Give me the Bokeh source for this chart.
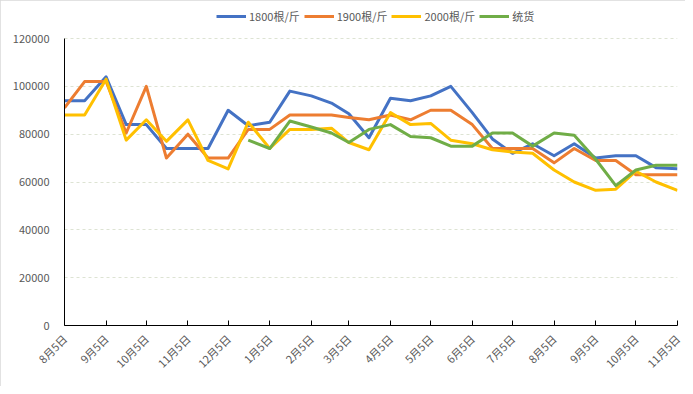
import math
import numpy as np
import pandas as pd
from bokeh.plotting import figure
from bokeh.models import (ColumnDataSource, FixedTicker, Legend, LegendItem,
                          Range1d, NumeralTickFormatter)
from bokeh.embed import file_html
from bokeh.resources import INLINE

# ---------------- data ----------------
dates = ["2020-08-05", "2020-08-20", "2020-09-05", "2020-09-20", "2020-10-05", "2020-10-20",
         "2020-11-05", "2020-11-20", "2020-12-05", "2020-12-20", "2021-01-05", "2021-01-20",
         "2021-02-05", "2021-02-20", "2021-03-05", "2021-03-20", "2021-04-05", "2021-04-20",
         "2021-05-05", "2021-05-20", "2021-06-05", "2021-06-20", "2021-07-05", "2021-07-20",
         "2021-08-05", "2021-08-20", "2021-09-05", "2021-09-20", "2021-10-05", "2021-10-20",
         "2021-11-05"]

s1800 = [94000, 94000, 104000, 84000, 84000, 74000, 74000, 74000, 90000, 83500, 85000, 98000,
         96000, 93000, 88500, 78500, 95000, 94000, 96000, 100000, 89000, 78000, 72000, 76000,
         71000, 76000, 70000, 71000, 71000, 66000, 65500]
s1900 = [91000, 102000, 102000, 80500, 100000, 70000, 80000, 70000, 70000, 82000, 82000, 88000,
         88000, 88000, 87000, 86000, 88000, 86000, 90000, 90000, 84000, 74000, 74000, 74000,
         68000, 74000, 69000, 69000, 63000, 63000, 63000]
s2000 = [88000, 88000, 103000, 77500, 86000, 77000, 86000, 69000, 65500, 85000, 74000, 82000,
         82000, 82500, 76500, 73500, 89000, 84000, 84500, 77500, 76000, 73500, 72500, 72000,
         65000, 60000, 56500, 57000, 64500, 60000, 56500]
s_tong = [np.nan, np.nan, np.nan, np.nan, np.nan, np.nan, np.nan, np.nan, np.nan, 77500, 74000, 85500,
          83000, 80500, 76500, 82000, 84000, 79000, 78500, 75000, 75000, 80500, 80500, 75000,
          80500, 79500, 69500, 58500, 65000, 67000, 67000]

series_names = ["1800根/斤", "1900根/斤", "2000根/斤", "统货"]
series_colors = ["#4472C4", "#ED7D31", "#FFC000", "#70AD47"]

tick_dates = ["2020-08-05", "2020-09-05", "2020-10-05", "2020-11-05", "2020-12-05", "2021-01-05",
              "2021-02-05", "2021-03-05", "2021-04-05", "2021-05-05", "2021-06-05", "2021-07-05",
              "2021-08-05", "2021-09-05", "2021-10-05", "2021-11-05"]
tick_labels = ["8月5日", "9月5日", "10月5日", "11月5日", "12月5日", "1月5日", "2月5日", "3月5日",
               "4月5日", "5月5日", "6月5日", "7月5日", "8月5日", "9月5日", "10月5日", "11月5日"]

y_ticks = [0, 20000, 40000, 60000, 80000, 100000, 120000]

# ---------------- plot ----------------
FONT = "Noto Sans CJK SC"
TXT = "#595959"

# layout (pixels): axis area spans 287 px for 0..120000; extra headroom holds the legend
FRAME_TOP, AXIS_TOP, AXIS_BOTTOM = 4, 38, 325
y_end = y_ticks[-1] * (AXIS_BOTTOM - FRAME_TOP) / (AXIS_BOTTOM - AXIS_TOP)

source = ColumnDataSource(dict(x=pd.to_datetime(dates), a=s1800, b=s1900, c=s2000, d=s_tong))
tick_ms = [int(pd.Timestamp(d).value // 10**6) for d in tick_dates]

p = figure(width=685, height=386, x_axis_type="datetime", output_backend="svg",
           toolbar_location=None,
           x_range=Range1d(tick_ms[0], tick_ms[-1]), y_range=Range1d(y_ticks[0], y_end),
           min_border_left=64, min_border_right=8, min_border_top=FRAME_TOP,
           min_border_bottom=386 - AXIS_BOTTOM)
p.styles = {"outline": "1px solid #d9d9d9", "outline-offset": "-1px"}
p.outline_line_color = None
p.background_fill_color = "white"
p.border_fill_color = "white"

renderers = []
for col, color in zip(["a", "b", "c", "d"], series_colors):
    r = p.line("x", col, source=source, line_color=color, line_width=3, line_join="round")
    renderers.append(r)

legend = Legend(items=[LegendItem(label=n, renderers=[r]) for n, r in zip(series_names, renderers)],
                orientation="horizontal", location=(152, 301), glyph_width=30, glyph_height=14,
                label_standoff=3, spacing=4, padding=0, margin=0,
                label_text_font=FONT, label_text_font_size="11px", label_text_color=TXT,
                border_line_color=None, background_fill_alpha=0)
p.add_layout(legend)

# x axis
p.xaxis.ticker = FixedTicker(ticks=tick_ms)
p.xaxis.major_label_overrides = dict(zip(tick_ms, tick_labels))
p.xaxis.major_label_orientation = math.pi / 4
p.xaxis.major_label_text_font = FONT
p.xaxis.major_label_text_font_size = "11px"
p.xaxis.major_label_text_color = TXT
p.xaxis.major_label_standoff = 11
p.xaxis.major_tick_in = 5
p.xaxis.major_tick_out = 0
p.xaxis.minor_tick_line_color = None
p.xaxis.axis_line_color = "black"
p.xaxis.major_tick_line_color = "black"

# y axis
p.yaxis.ticker = FixedTicker(ticks=y_ticks)
p.yaxis.bounds = (y_ticks[0], y_ticks[-1])
p.yaxis.formatter = NumeralTickFormatter(format="0")
p.yaxis.major_label_text_font = FONT
p.yaxis.major_label_text_font_size = "11px"
p.yaxis.major_label_text_color = TXT
p.yaxis.major_tick_line_color = None
p.yaxis.minor_tick_line_color = None
p.yaxis.major_label_standoff = 9
p.yaxis.axis_line_color = "black"

p.xgrid.grid_line_color = None
p.ygrid.ticker = FixedTicker(ticks=y_ticks[1:])
p.ygrid.grid_line_color = "#dde3d3"
p.ygrid.grid_line_dash = "3 3"

open("out.html", "w").write(file_html(p, INLINE))
